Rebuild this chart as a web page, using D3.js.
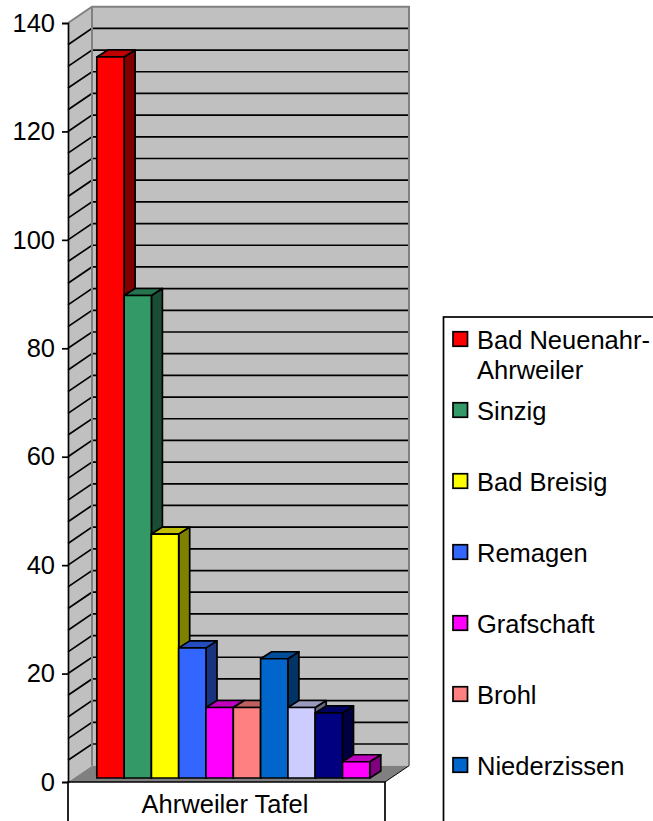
<!DOCTYPE html>
<html>
<head>
  <meta charset="utf-8">
  <title>Ahrweiler Tafel</title>
  <script src="https://cdnjs.cloudflare.com/ajax/libs/d3/7.8.5/d3.min.js"></script>
  <style>
    body { margin: 0; background: #fff; }
    svg { display: block; }
    text { font-family: "Liberation Sans", Arial, sans-serif; fill: #000; }
  </style>
</head>
<body>
<script>
  const categoryName = "Ahrweiler Tafel";
  const barValues = [133, 89, 45, 24, 13, 13, 22, 13, 12, 3];
  const barColors = ["#ff0000", "#339966", "#ffff00", "#3366ff", "#ff00ff", "#ff8080", "#0066cc", "#ccccff", "#000080", "#ff00ff"];
  const legendNames = [["Bad Neuenahr-", "Ahrweiler"], ["Sinzig"], ["Bad Breisig"], ["Remagen"], ["Grafschaft"], ["Brohl"], ["Niederzissen"]];
  const yTicks = [0, 20, 40, 60, 80, 100, 120, 140];
  const gridValues = d3.range(0, 141, 4);

  const w = 653;
  const h = 821;
  const fontSize = 25.5;
  const lineW = 1.7;

  // wall depth of the 3d box, bars sit a bit in front of the back wall
  const wallDx = 24;
  const wallDy = -16.3;
  const barDx = 11;
  const barDy = -7;
  const barBaseShift = -4;
  const left = 68;
  const right = 385;

  const yScale = d3.scaleLinear().domain([0, 140]).range([782, 23]);
  const xScale = d3.scaleBand()
    .domain(d3.range(barValues.length))
    .range([96.8, 369.8]);

  const svg = d3.select("body").append("svg")
    .attr("width", w)
    .attr("height", h);

  const y0 = yScale(0);
  const y1 = yScale(140);
  const pts = (arr) => arr.map((p) => p.join(",")).join(" ");

  // back wall and side wall
  svg.append("polygon")
    .attr("points", pts([[left + wallDx, y1 + wallDy], [right + wallDx, y1 + wallDy], [right + wallDx, y0 + wallDy], [left + wallDx, y0 + wallDy]]))
    .attr("fill", "#c0c0c0");
  svg.append("polygon")
    .attr("points", pts([[left, y1], [left + wallDx, y1 + wallDy], [left + wallDx, y0 + wallDy], [left, y0]]))
    .attr("fill", "#c0c0c0");

  // gridlines
  svg.selectAll(".grid")
    .data(gridValues.filter((d) => d > 0 && d < 140))
    .enter()
    .append("polyline")
    .attr("class", "grid")
    .attr("points", (d) => pts([[left, yScale(d)], [left + wallDx, yScale(d) + wallDy], [right + wallDx, yScale(d) + wallDy]]))
    .attr("fill", "none")
    .attr("stroke", "#000")
    .attr("stroke-width", lineW);

  // grey edges of the walls
  svg.append("polyline")
    .attr("points", pts([[left, y1], [left + wallDx, y1 + wallDy], [right + wallDx, y1 + wallDy], [right + wallDx, y0 + wallDy]]))
    .attr("fill", "none")
    .attr("stroke", "#808080")
    .attr("stroke-width", 2);
  svg.append("line")
    .attr("x1", left + wallDx).attr("x2", left + wallDx)
    .attr("y1", y1 + wallDy).attr("y2", y0 + wallDy)
    .attr("stroke", "#808080")
    .attr("stroke-width", 2);

  // floor
  svg.append("polygon")
    .attr("points", pts([[left, y0], [left + wallDx, y0 + wallDy], [right + wallDx, y0 + wallDy], [right, y0]]))
    .attr("fill", "#808080");
  svg.append("line")
    .attr("x1", right).attr("x2", right + wallDx)
    .attr("y1", y0).attr("y2", y0 + wallDy)
    .attr("stroke", "#000");

  // bars, left to right so the next one covers the side of the previous
  const barBase = y0 + barBaseShift;
  const barTop = (d) => yScale(d) + barBaseShift;
  const shade = (c, k) => {
    const col = d3.rgb(c);
    return d3.rgb(col.r * k, col.g * k, col.b * k).formatHex();
  };
  const bars = svg.selectAll(".bar")
    .data(barValues)
    .enter()
    .append("g")
    .attr("class", "bar")
    .attr("stroke", "#000")
    .attr("stroke-width", lineW)
    .attr("stroke-linejoin", "round");

  bars.append("polygon")
    .attr("points", (d, i) => {
      const x = xScale(i) + xScale.bandwidth();
      return pts([[x, barTop(d)], [x + barDx, barTop(d) + barDy], [x + barDx, barBase + barDy], [x, barBase]]);
    })
    .attr("fill", (d, i) => shade(barColors[i], 0.5));
  bars.append("polygon")
    .attr("points", (d, i) => {
      const x = xScale(i);
      const x2 = x + xScale.bandwidth();
      return pts([[x, barTop(d)], [x + barDx, barTop(d) + barDy], [x2 + barDx, barTop(d) + barDy], [x2, barTop(d)]]);
    })
    .attr("fill", (d, i) => shade(barColors[i], 0.75));
  bars.append("rect")
    .attr("x", (d, i) => xScale(i))
    .attr("y", (d) => barTop(d))
    .attr("width", xScale.bandwidth())
    .attr("height", (d) => barBase - barTop(d))
    .attr("fill", (d, i) => barColors[i]);

  // y axis
  const yAxis = d3.axisLeft(yScale)
    .tickValues(yTicks)
    .tickSize(6)
    .tickPadding(7)
    .tickFormat(d3.format("d"));
  const axisG = svg.append("g")
    .attr("id", "y-axis")
    .attr("transform", "translate(" + left + ",0)")
    .call(yAxis);
  axisG.selectAll("text")
    .style("font-size", fontSize + "px")
    .style("font-family", '"Liberation Sans", Arial, sans-serif')
    .attr("fill", "#000");
  axisG.selectAll("line").attr("stroke", "#000").attr("stroke-width", lineW);
  axisG.select(".domain").attr("stroke", "#000").attr("stroke-width", lineW);

  // category box under the floor
  svg.append("polyline")
    .attr("points", pts([[left, h], [left, y0], [right, y0], [right, h]]))
    .attr("fill", "none")
    .attr("stroke", "#000")
    .attr("stroke-width", lineW);
  svg.append("text")
    .attr("x", 225)
    .attr("y", 813)
    .attr("text-anchor", "middle")
    .style("font-size", fontSize + "px")
    .text(categoryName);

  // legend runs off the page on the right and at the bottom
  const legendX = 443.5;
  const legendY = 317;
  const legendStep = 71;
  const legendFirst = 339;
  const swatch = 14.5;

  svg.append("rect")
    .attr("x", legendX)
    .attr("y", legendY)
    .attr("width", 400)
    .attr("height", 800)
    .attr("fill", "#fff")
    .attr("stroke", "#000")
    .attr("stroke-width", lineW);

  const rows = svg.selectAll(".legend-row")
    .data(legendNames)
    .enter()
    .append("g")
    .attr("class", "legend-row")
    .attr("transform", (d, i) => "translate(0," + (legendFirst + i * legendStep) + ")");
  rows.append("rect")
    .attr("x", 453)
    .attr("y", -swatch / 2)
    .attr("width", swatch)
    .attr("height", swatch)
    .attr("fill", (d, i) => barColors[i])
    .attr("stroke", "#000")
    .attr("stroke-width", lineW);
  rows.each(function (lines) {
    d3.select(this).selectAll("text")
      .data(lines)
      .enter()
      .append("text")
      .attr("x", 477)
      .attr("y", (d, j) => 10 + j * 30)
      .style("font-size", fontSize + "px")
      .text((d) => d);
  });
</script>
</body>
</html>
